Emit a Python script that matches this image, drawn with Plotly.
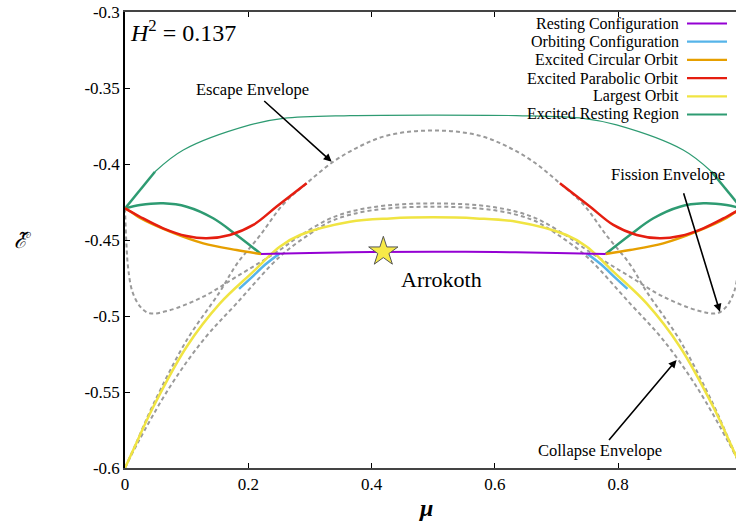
import plotly.graph_objects as go

# ---------------- data ----------------
escape_mu = [0, 0.02, 0.046, 0.1, 0.154, 0.181, 0.219, 0.2567, 0.2946, 0.3378, 0.38, 0.419, 0.46, 0.5,
             0.54, 0.581, 0.62, 0.6622, 0.7054, 0.7433, 0.781, 0.819, 0.846, 0.9, 0.954, 0.98, 1.0]
escape_E = [-0.6, -0.5818, -0.558, -0.516, -0.484, -0.466, -0.447, -0.4265, -0.4127, -0.3985, -0.3885, -0.382, -0.3788, -0.378,
            -0.3788, -0.382, -0.3885, -0.3985, -0.4127, -0.4265, -0.447, -0.466, -0.484, -0.516, -0.558, -0.5818, -0.6]

fission_mu = [0, 0.002, 0.005, 0.012, 0.025, 0.04, 0.07, 0.127, 0.181, 0.251, 0.284, 0.3378, 0.4, 0.5,
              0.6, 0.6622, 0.716, 0.749, 0.819, 0.873, 0.93, 0.96, 0.975, 0.988, 0.995, 0.998, 1.0]
fission_E = [-0.4292, -0.45, -0.468, -0.484, -0.494, -0.4982, -0.4965, -0.4873, -0.4741, -0.4566, -0.4472, -0.435, -0.4285, -0.4259,
             -0.4285, -0.435, -0.4472, -0.4566, -0.4741, -0.4873, -0.4965, -0.4982, -0.494, -0.484, -0.468, -0.45, -0.4292]

collapse_mu = [0, 0.02, 0.073, 0.127, 0.181, 0.251, 0.3, 0.3378, 0.4, 0.5,
               0.6, 0.6622, 0.7, 0.749, 0.819, 0.873, 0.927, 0.98, 1.0]
collapse_E = [-0.6, -0.584, -0.5465, -0.5158, -0.4917, -0.461, -0.446, -0.437, -0.4305, -0.4281,
              -0.4305, -0.437, -0.446, -0.461, -0.4917, -0.5158, -0.5465, -0.584, -0.6]

largest_mu = [0, 0.0135, 0.046, 0.1, 0.154, 0.208, 0.251, 0.284, 0.365, 0.43, 0.5,
              0.57, 0.635, 0.716, 0.749, 0.792, 0.846, 0.9, 0.954, 0.9865, 1.0]
largest_E = [-0.6, -0.588, -0.5597, -0.5202, -0.4917, -0.4708, -0.4544, -0.4467, -0.438, -0.4358, -0.4351,
             -0.4358, -0.438, -0.4467, -0.4544, -0.4708, -0.4917, -0.5202, -0.5597, -0.588, -0.6]

orbiting_left_mu = [0.185, 0.205, 0.228, 0.251]
orbiting_left_E = [-0.4822, -0.4748, -0.4660, -0.4588]
orbiting_right_mu = [0.749, 0.772, 0.795, 0.815]
orbiting_right_E = [-0.4588, -0.4660, -0.4748, -0.4822]

resting_mu = [0.2205, 0.3, 0.4, 0.5, 0.6, 0.7, 0.7795]
resting_E = [-0.4592, -0.4586, -0.4579, -0.4577, -0.4579, -0.4586, -0.4592]

circular_left_mu = [0, 0.0135, 0.0243, 0.073, 0.127, 0.181, 0.2205]
circular_left_E = [-0.4292, -0.4325, -0.4355, -0.4445, -0.4522, -0.4566, -0.4592]
circular_right_mu = [0.7795, 0.819, 0.873, 0.927, 0.9757, 0.9865, 1.0]
circular_right_E = [-0.4592, -0.4566, -0.4522, -0.4445, -0.4355, -0.4325, -0.4292]

parabolic_left_mu = [0, 0.0243, 0.062, 0.1, 0.1324, 0.17, 0.208, 0.246, 0.2946]
parabolic_left_E = [-0.4292, -0.4347, -0.4423, -0.4474, -0.4489, -0.4467, -0.4401, -0.428, -0.4127]
parabolic_right_mu = [0.7054, 0.754, 0.792, 0.83, 0.8676, 0.9, 0.938, 0.9757, 1.0]
parabolic_right_E = [-0.4127, -0.428, -0.4401, -0.4467, -0.4489, -0.4474, -0.4423, -0.4347, -0.4292]

region_low_left_mu = [0, 0.0243, 0.062, 0.1, 0.143, 0.181, 0.2205]
region_low_left_E = [-0.4292, -0.427, -0.4259, -0.4281, -0.4357, -0.4467, -0.4592]
region_low_right_mu = [0.7795, 0.819, 0.857, 0.9, 0.938, 0.9757, 1.0]
region_low_right_E = [-0.4592, -0.4467, -0.4357, -0.4281, -0.4259, -0.427, -0.4292]

region_up_thick_left_mu = [0, 0.0486]
region_up_thick_left_E = [-0.4292, -0.4051]
region_up_thin_mu = [0.0486, 0.0946, 0.2027, 0.2567, 0.365, 0.5, 0.635, 0.7433, 0.7973, 0.9054, 0.9514]
region_up_thin_E = [-0.4051, -0.3908, -0.3743, -0.370, -0.3682, -0.3678, -0.3682, -0.370, -0.3743, -0.3908, -0.4051]
region_up_thick_right_mu = [0.9514, 1.0]
region_up_thick_right_E = [-0.4051, -0.4292]

arrokoth_mu = [0.419]
arrokoth_E = [-0.4577]

x_tick_vals = [0, 0.2, 0.4, 0.6, 0.8, 1.0]
x_tick_text = ["0", "0.2", "0.4", "0.6", "0.8", "1"]
y_tick_vals = [-0.3, -0.35, -0.4, -0.45, -0.5, -0.55, -0.6]
y_tick_text = ["-0.3", "-0.35", "-0.4", "-0.45", "-0.5", "-0.55", "-0.6"]

legend_names = ["Resting Configuration", "Orbiting Configuration", "Excited Circular Orbit",
                "Excited Parabolic Orbit", "Largest Orbit", "Excited Resting Region"]

# ---------------- styles ----------------
C_PURPLE = "#9400D3"
C_BLUE = "#56B4E9"
C_ORANGE = "#E69F00"
C_RED = "#E51E10"
C_YELLOW = "#F0E442"
C_GREEN = "#2E9B72"
C_GRAY = "#9a9a9a"
legend_colors = [C_PURPLE, C_BLUE, C_ORANGE, C_RED, C_YELLOW, C_GREEN]
FONT = "Liberation Serif, Times New Roman, serif"

W, H = 736, 524
L, R, T, B = 125, 0, 12, 56
XMAX = 0.991

fig = go.Figure()


def add(mu, e, color, width, dash=None, shape="spline"):
    fig.add_trace(go.Scatter(x=mu, y=e, mode="lines", showlegend=False, hoverinfo="skip",
                             line=dict(color=color, width=width, dash=dash, shape=shape, smoothing=1.0)))


# envelopes
add(escape_mu, escape_E, C_GRAY, 2, dash="4px,3px")
add(fission_mu, fission_E, C_GRAY, 2, dash="4px,3px")
add(collapse_mu, collapse_E, C_GRAY, 2, dash="4px,3px")
# excited resting region
add(region_up_thin_mu, region_up_thin_E, C_GREEN, 1.2)
add(region_up_thick_left_mu, region_up_thick_left_E, C_GREEN, 2.5, shape="linear")
add(region_up_thick_right_mu, region_up_thick_right_E, C_GREEN, 2.5, shape="linear")
add(region_low_left_mu, region_low_left_E, C_GREEN, 2.5)
add(region_low_right_mu, region_low_right_E, C_GREEN, 2.5)
# circular & parabolic
add(circular_left_mu, circular_left_E, C_ORANGE, 2.5)
add(circular_right_mu, circular_right_E, C_ORANGE, 2.5)
add(parabolic_left_mu, parabolic_left_E, C_RED, 2.5)
add(parabolic_right_mu, parabolic_right_E, C_RED, 2.5)
# orbiting, largest, resting
add(orbiting_left_mu, orbiting_left_E, C_BLUE, 2.5)
add(orbiting_right_mu, orbiting_right_E, C_BLUE, 2.5)
add(largest_mu, largest_E, C_YELLOW, 2.5)
add(resting_mu, resting_E, C_PURPLE, 2)

fig.add_trace(go.Scatter(x=arrokoth_mu, y=arrokoth_E, mode="markers", showlegend=False, hoverinfo="skip",
                         marker=dict(symbol="star", size=22, color="#F7EA48",
                                     line=dict(color="#555555", width=1))))


def px(xp):
    return (xp - L) / (W - L - R)


def py(yp):
    return (H - B - yp) / (H - T - B)


annotations = []
shapes = []

# manual legend (text right-aligned, sample line to the right)
row_y = [23.5, 41.7, 59.9, 78.1, 96.3, 114.5]
for name, col, yy in zip(legend_names, legend_colors, row_y):
    annotations.append(dict(xref="paper", yref="paper", x=px(681), y=py(yy), text=name, showarrow=False,
                            xanchor="right", yanchor="middle", font=dict(family=FONT, size=16, color="black")))
    shapes.append(dict(type="line", xref="paper", yref="paper", x0=px(687), x1=px(727), y0=py(yy), y1=py(yy),
                       line=dict(color=col, width=2.2)))

annotations += [
    dict(xref="paper", yref="paper", x=px(128), y=py(31), text="<i>H</i><sup>2</sup> = 0.137", showarrow=False,
         xanchor="left", yanchor="middle", font=dict(family=FONT, size=24, color="black")),
    # labels with arrows (text sits at the arrow tail)
    dict(xref="x", yref="y", axref="x", ayref="y", x=0.3352, y=-0.3985, ax=0.206, ay=-0.3513,
         text="Escape Envelope", showarrow=True, arrowhead=2, arrowsize=1, arrowwidth=1.6, arrowcolor="black",
         font=dict(family=FONT, size=16.5, color="black")),
    dict(xref="x", yref="y", x=0.8805, y=-0.4072, text="Fission Envelope", showarrow=False,
         font=dict(family=FONT, size=16.5, color="black")),
    dict(xref="x", yref="y", axref="x", ayref="y", x=0.8946, y=-0.5289, ax=0.770, ay=-0.5888,
         text="Collapse Envelope", showarrow=True, arrowhead=2, arrowsize=1, arrowwidth=1.6, arrowcolor="black",
         font=dict(family=FONT, size=16.5, color="black")),
    dict(xref="x", yref="y", x=0.5135, y=-0.4759, text="Arrokoth", showarrow=False,
         font=dict(family=FONT, size=22, color="black")),
    dict(xref="x", yref="y", axref="x", ayref="y", x=0.9648, y=-0.4972, ax=0.9053, ay=-0.4182, text="",
         showarrow=True, arrowhead=2, arrowsize=1, arrowwidth=1.6, arrowcolor="black"),
    # axis titles
    dict(xref="paper", yref="paper", x=px(425), y=py(508), text="<b><i>μ</i></b>", showarrow=False,
         xanchor="center", yanchor="middle", font=dict(family=FONT, size=24, color="black")),
    dict(xref="paper", yref="paper", x=px(22), y=py(240), text="<i>ℰ̃</i>", showarrow=False,
         xanchor="center", yanchor="middle", font=dict(family="DejaVu Serif, serif", size=22, color="black")),
]

fig.update_layout(
    width=W, height=H,
    margin=dict(l=L, r=R, t=T, b=B, pad=0),
    paper_bgcolor="white", plot_bgcolor="white",
    showlegend=False,
    annotations=annotations,
    shapes=shapes,
    xaxis=dict(range=[0, XMAX], tickvals=x_tick_vals, ticktext=x_tick_text, ticks="inside", ticklen=5,
               tickcolor="black", showgrid=False, zeroline=False, showline=True, linecolor="#444444",
               linewidth=2, mirror="ticks", tickfont=dict(family=FONT, size=17, color="black")),
    yaxis=dict(range=[-0.6, -0.3], tickvals=y_tick_vals, ticktext=y_tick_text, ticks="inside", ticklen=5,
               tickcolor="black", showgrid=False, zeroline=False, showline=True, linecolor="black",
               linewidth=1.5, tickfont=dict(family=FONT, size=17, color="black")),
)

fig.write_html("out.html")
